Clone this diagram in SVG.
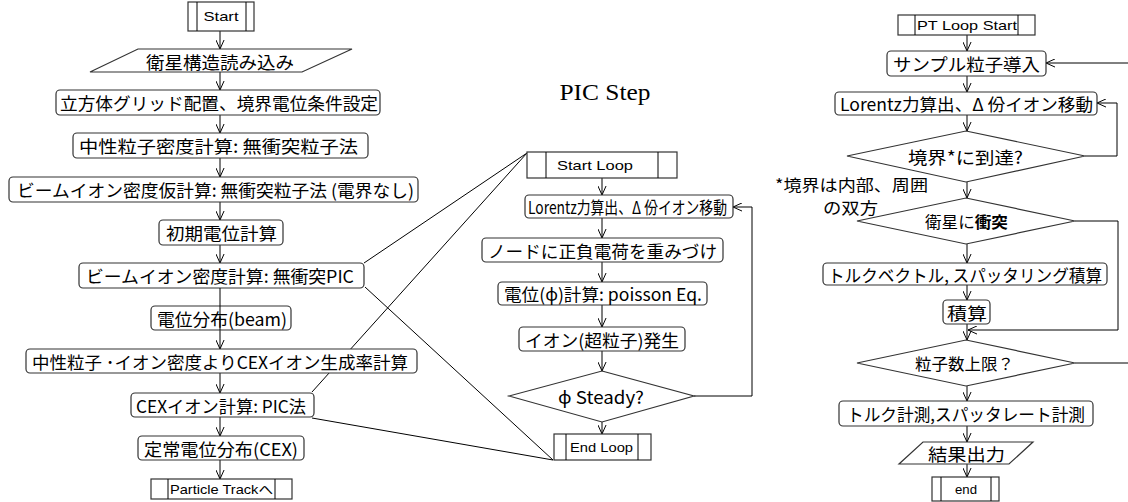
<svg xmlns="http://www.w3.org/2000/svg" width="1128" height="502" viewBox="0 0 1128 502">
<defs>
<marker id="ah" viewBox="0 0 10 10" refX="10" refY="5" markerWidth="9" markerHeight="9" markerUnits="userSpaceOnUse" orient="auto">
<path d="M0,0.5 L10,5 L0,9.5" fill="none" stroke="#000" stroke-width="1.1"/>
</marker>
<style>
.b{fill:#fff;stroke:#333;stroke-width:1.2}
.t{font-family:"Noto Sans CJK JP","Noto Sans",sans-serif;font-size:17.5px;fill:#000;text-anchor:middle;dominant-baseline:central}
.s{font-family:"Liberation Sans",Arial,"Noto Sans CJK JP",sans-serif;font-size:13px;fill:#000;text-anchor:middle;dominant-baseline:central}
.c{fill:none;stroke:#000;stroke-width:1}
.a{fill:none;stroke:#000;stroke-width:1;marker-end:url(#ah)}
</style>
</defs>
<rect width="1128" height="502" fill="#fff"/>

<!-- connectors -->
<g id="connectors">
<!-- left column -->
<path class="a" d="M220,31 V49"/>
<path class="a" d="M220,72 V90"/>
<path class="a" d="M220,115 V133"/>
<path class="a" d="M220,158 V177"/>
<path class="a" d="M220,202 V220"/>
<path class="a" d="M220,245 V263"/>
<path class="a" d="M220,330 V349"/>
<path class="a" d="M220,373 V393"/>
<path class="a" d="M220,417 V436"/>
<path class="a" d="M220,460 V479"/>
<!-- cross lines -->
<path class="c" d="M364,263 L527,153"/>
<path class="c" d="M312,392 L527,153"/>
<path class="c" d="M365,287 L553,460"/>
<path class="c" d="M312,418 L553,460"/>
<!-- middle -->
<path class="a" d="M602,178 V195"/>
<path class="a" d="M602,218 V238"/>
<path class="a" d="M602,262 V282"/>
<path class="a" d="M602,305 V327"/>
<path class="a" d="M602,351 V371"/>
<path class="a" d="M602,422 V434"/>
<path class="a" d="M694,396 H752 V207 H733"/>
<!-- right -->
<path class="a" d="M967,35 V51"/>
<path class="a" d="M1128,63 H1046"/>
<path class="a" d="M967,76 V92"/>
<path class="a" d="M967,115 V131"/>
<path class="a" d="M1085,156 H1117 V103 H1097"/>
<path class="a" d="M967,182 V198"/>
<path class="a" d="M967,244 V263"/>
<path class="a" d="M967,285 V300"/>
<path class="a" d="M967,324 V340"/>
<path class="a" d="M1075,221 H1118 V330 H968"/>
<path class="c" d="M1075,363 H1128"/>
<path class="a" d="M967,386 V401"/>
<path class="a" d="M967,426 V442"/>
<path class="a" d="M967,464 V477"/>
</g>

<!-- left column nodes -->
<g id="start">
<rect class="b" x="188" y="2" width="66" height="29"/>
<path class="c" d="M197,2 V31 M246,2 V31"/>
<text class="s" x="221" y="16.5" textLength="35" lengthAdjust="spacingAndGlyphs">Start</text>
</g>
<g id="read">
<polygon class="b" points="138,49 352,49 302,72 90,72"/>
<text class="t" x="220" y="61" textLength="148" lengthAdjust="spacingAndGlyphs">衛星構造読み込み</text>
</g>
<g id="grid">
<rect class="b" x="56" y="90" width="324" height="25" rx="4"/>
<text class="t" x="219" y="102.5" textLength="318" lengthAdjust="spacingAndGlyphs">立方体グリッド配置、境界電位条件設定</text>
</g>
<g id="neutral">
<rect class="b" x="73" y="133" width="295" height="25" rx="4"/>
<text class="t" x="218.5" y="145.5" textLength="279" lengthAdjust="spacingAndGlyphs">中性粒子密度計算: 無衝突粒子法</text>
</g>
<g id="beamtmp">
<rect class="b" x="9" y="177" width="409" height="25" rx="4"/>
<text class="t" x="215.5" y="189.5" textLength="397" lengthAdjust="spacingAndGlyphs">ビームイオン密度仮計算: 無衝突粒子法 (電界なし)</text>
</g>
<g id="initpot">
<rect class="b" x="159" y="220" width="124" height="25" rx="4"/>
<text class="t" x="221.5" y="232.5" textLength="111" lengthAdjust="spacingAndGlyphs">初期電位計算</text>
</g>
<g id="beampic">
<rect class="b" x="79" y="263" width="285" height="25" rx="4"/>
<text class="t" x="220" y="275.5" textLength="268" lengthAdjust="spacingAndGlyphs">ビームイオン密度計算: 無衝突PIC</text>
</g>
<g id="potbeam">
<rect class="b" x="151" y="306" width="140" height="24" rx="4"/>
<text class="t" x="222" y="318" textLength="130" lengthAdjust="spacingAndGlyphs">電位分布(beam)</text>
</g>
<path class="c" d="M220,288 V330"/>
<g id="cexrate">
<rect class="b" x="26" y="349" width="391" height="24" rx="4"/>
<text class="t" x="220" y="361" textLength="376" lengthAdjust="spacingAndGlyphs">中性粒子 ･イオン密度よりCEXイオン生成率計算</text>
</g>
<g id="cexpic">
<rect class="b" x="131" y="393" width="183" height="24" rx="4"/>
<text class="t" x="221" y="405" textLength="170" lengthAdjust="spacingAndGlyphs">CEXイオン計算: PIC法</text>
</g>
<g id="steadycex">
<rect class="b" x="138" y="436" width="166" height="24" rx="4"/>
<text class="t" x="221" y="448" textLength="154" lengthAdjust="spacingAndGlyphs">定常電位分布(CEX)</text>
</g>
<g id="ptrack">
<rect class="b" x="151" y="479" width="141" height="20"/>
<path class="c" d="M168,479 V499 M275,479 V499"/>
<text class="s" x="221.5" y="489" textLength="103" lengthAdjust="spacingAndGlyphs">Particle Trackへ</text>
</g>

<!-- middle column -->
<g id="pictitle">
<text x="605" y="100" font-family="Liberation Serif,'Times New Roman',serif" font-size="24" text-anchor="middle" textLength="91" lengthAdjust="spacingAndGlyphs">PIC Step</text>
</g>
<g id="startloop">
<rect class="b" x="527" y="152" width="150" height="26"/>
<path class="c" d="M546,152 V178 M658,152 V178"/>
<text class="s" x="595" y="165" textLength="76" lengthAdjust="spacingAndGlyphs">Start Loop</text>
</g>
<g id="lorentz1">
<rect class="b" x="525" y="195" width="208" height="23" rx="4"/>
<text class="t" x="627.5" y="206.5" textLength="199" lengthAdjust="spacingAndGlyphs">Lorentz力算出、Δ 份イオン移動</text>
</g>
<g id="weight">
<rect class="b" x="482" y="238" width="241" height="24" rx="4"/>
<text class="t" x="602.5" y="250" textLength="229" lengthAdjust="spacingAndGlyphs">ノードに正負電荷を重みづけ</text>
</g>
<g id="poisson">
<rect class="b" x="498" y="282" width="209" height="23" rx="4"/>
<text class="t" x="603" y="293.5" textLength="198" lengthAdjust="spacingAndGlyphs">電位(ϕ)計算: poisson Eq.</text>
</g>
<g id="gen">
<rect class="b" x="519" y="327" width="166" height="24" rx="4"/>
<text class="t" x="602" y="339" textLength="154" lengthAdjust="spacingAndGlyphs">イオン(超粒子)発生</text>
</g>
<g id="steady">
<polygon class="b" points="602,371 694,396 602,422 509,396"/>
<text class="t" x="601" y="396" textLength="86" lengthAdjust="spacingAndGlyphs">ϕ  Steady?</text>
</g>
<g id="endloop">
<rect class="b" x="554" y="434" width="97" height="26"/>
<path class="c" d="M566,434 V460 M638,434 V460"/>
<text class="s" x="601.5" y="447" textLength="63" lengthAdjust="spacingAndGlyphs">End Loop</text>
</g>

<!-- right column -->
<g id="ptstart">
<rect class="b" x="898" y="15" width="137" height="20"/>
<path class="c" d="M915,15 V35 M1018,15 V35"/>
<text class="s" x="967" y="25" textLength="100" lengthAdjust="spacingAndGlyphs">PT  Loop  Start</text>
</g>
<g id="sample">
<rect class="b" x="887" y="51" width="159" height="25" rx="4"/>
<text class="t" x="966.5" y="63.5" textLength="147" lengthAdjust="spacingAndGlyphs">サンプル粒子導入</text>
</g>
<g id="lorentz2">
<rect class="b" x="835" y="92" width="262" height="23" rx="4"/>
<text class="t" x="966.5" y="103.5" textLength="253" lengthAdjust="spacingAndGlyphs">Lorentz力算出、Δ 份イオン移動</text>
</g>
<g id="boundary">
<polygon class="b" points="966,131 1085,156 966,182 847,156"/>
<text class="t" x="965.5" y="156" textLength="115" lengthAdjust="spacingAndGlyphs">境界*に到達?</text>
</g>
<g id="note">
<text class="t" x="775" y="183.5" style="text-anchor:start;font-size:16px" textLength="153" lengthAdjust="spacingAndGlyphs">*境界は内部、周囲</text>
<text class="t" x="823" y="207" style="text-anchor:start;font-size:16px" textLength="55" lengthAdjust="spacingAndGlyphs">の双方</text>
</g>
<g id="collide">
<polygon class="b" points="966,198 1075,221 966,244 857,221"/>
<text class="t" x="966.5" y="221" textLength="83" lengthAdjust="spacingAndGlyphs" style="font-size:16px">衛星に<tspan font-weight="bold">衝突</tspan></text>
</g>
<g id="torque">
<rect class="b" x="823" y="263" width="284" height="22" rx="4"/>
<text class="t" x="965" y="274" textLength="274" lengthAdjust="spacingAndGlyphs">トルクベクトル, スパッタリング積算</text>
</g>
<g id="sum">
<rect class="b" x="943" y="300" width="47" height="24" rx="4"/>
<text class="t" x="967" y="312" textLength="40" lengthAdjust="spacingAndGlyphs">積算</text>
</g>
<g id="limit">
<polygon class="b" points="966,340 1075,363 966,386 857,363"/>
<text class="t" x="964.5" y="363" textLength="99" lengthAdjust="spacingAndGlyphs" style="font-size:16px">粒子数上限？</text>
</g>
<g id="measure">
<rect class="b" x="839" y="401" width="254" height="25" rx="4"/>
<text class="t" x="966" y="413.5" textLength="238" lengthAdjust="spacingAndGlyphs">トルク計測,スパッタレート計測</text>
</g>
<g id="output">
<polygon class="b" points="923,442 1033,442 1009,464 899,464"/>
<text class="t" x="966.5" y="453" textLength="77" lengthAdjust="spacingAndGlyphs">結果出力</text>
</g>
<g id="end">
<rect class="b" x="932" y="477" width="67" height="24"/>
<path class="c" d="M941,477 V501 M991,477 V501"/>
<text class="s" x="966" y="489" textLength="22" lengthAdjust="spacingAndGlyphs">end</text>
</g>
</svg>
